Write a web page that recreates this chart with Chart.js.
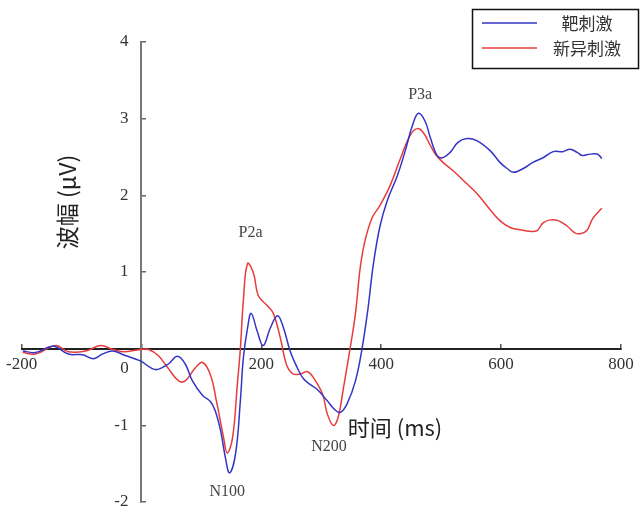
<!DOCTYPE html>
<html>
<head>
<meta charset="utf-8">
<script src="https://cdn.jsdelivr.net/npm/chart.js@4"></script>
<style>
  body { margin: 0; background: #fff; }
  #wrap { width: 641px; height: 509px; position: relative; }
</style>
</head>
<body>
<div id="wrap"><canvas id="erp"></canvas></div>
<script>
// --------------------- DATOS ---------------------
const seriesNames = ["靶刺激", "新异刺激"];

// tiempo (ms) y amplitud (uV) - estimado de la imagen
const tBlue = [-198, -177, -147, -122, -98, -80, -65, -48, -27, -2, 18, 28, 45, 60, 73, 85, 102, 115, 123, 132, 140, 147, 157, 165, 170, 177, 183, 193, 203, 215, 227, 237, 248, 260, 270, 282, 293, 310, 323, 332, 343, 357, 368, 378, 387, 398, 410, 427, 440, 452, 462, 473, 482, 493, 502, 515, 528, 543, 560, 582, 598, 610, 620, 637, 653, 670, 687, 703, 715, 727, 735, 743, 760, 768];
const vBlue = [-0.03, -0.05, 0.03, -0.07, -0.08, -0.13, -0.07, -0.03, -0.09, -0.16, -0.26, -0.27, -0.20, -0.10, -0.20, -0.42, -0.61, -0.69, -0.81, -1.07, -1.42, -1.62, -1.37, -0.68, -0.12, 0.27, 0.46, 0.23, 0.04, 0.27, 0.43, 0.27, -0.03, -0.25, -0.39, -0.47, -0.53, -0.68, -0.80, -0.83, -0.72, -0.42, 0.00, 0.53, 1.11, 1.60, 1.93, 2.26, 2.58, 2.91, 3.07, 2.97, 2.75, 2.52, 2.49, 2.56, 2.69, 2.74, 2.71, 2.58, 2.43, 2.35, 2.30, 2.35, 2.43, 2.49, 2.57, 2.57, 2.60, 2.56, 2.52, 2.53, 2.54, 2.48];

const tRed = [-198, -177, -143, -122, -93, -68, -48, -27, -2, 12, 28, 45, 62, 73, 90, 102, 115, 125, 137, 143, 152, 160, 165, 170, 177, 187, 195, 210, 220, 232, 242, 253, 265, 277, 287, 302, 310, 320, 328, 337, 348, 357, 365, 373, 385, 398, 415, 432, 448, 460, 470, 482, 490, 503, 520, 543, 560, 582, 598, 615, 632, 648, 660, 670, 682, 695, 710, 723, 732, 743, 753, 768];
const vRed = [-0.05, -0.07, 0.04, -0.04, -0.03, 0.04, -0.01, -0.04, -0.01, -0.01, -0.09, -0.26, -0.42, -0.42, -0.25, -0.18, -0.34, -0.68, -1.16, -1.36, -1.16, -0.46, 0.00, 0.63, 1.11, 0.98, 0.69, 0.56, 0.46, 0.13, -0.21, -0.33, -0.33, -0.30, -0.38, -0.59, -0.85, -1.00, -0.90, -0.51, 0.00, 0.46, 1.06, 1.41, 1.71, 1.87, 2.13, 2.48, 2.78, 2.87, 2.82, 2.65, 2.54, 2.43, 2.32, 2.15, 2.02, 1.81, 1.67, 1.58, 1.55, 1.53, 1.54, 1.64, 1.68, 1.67, 1.60, 1.51, 1.50, 1.54, 1.70, 1.83];

// componentes marcados en la grafica
const compLabels = ["P2a", "P3a", "N100", "N200"];
const compT = [182, 465, 143, 313];
const compV = [1.51, 3.31, -1.87, -1.28];

const xTitle = "时间 (ms)";
const yTitle = "波幅 (μV)";

function toPoints(ts, vs) {
  return ts.map((t, i) => ({ x: t, y: vs[i] }));
}

// --------------------- PLUGIN DE TEXTOS EXTRA ---------------------
const extras = {
  id: "extras",
  afterDraw(chart) {
    const c = chart.ctx;
    const xs = chart.scales.x;
    const ys = chart.scales.y;
    const x0 = xs.getPixelForValue(0);
    const y0 = ys.getPixelForValue(0);
    c.save();

    // etiquetas del eje y (a la izquierda del eje)
    c.font = "17px 'Liberation Serif'";
    c.fillStyle = "#333";
    c.textAlign = "right";
    c.textBaseline = "middle";
    ys.ticks.forEach(t => {
      if (t.value !== 0) c.fillText(String(t.value), x0 - 13, ys.getPixelForValue(t.value));
    });

    // etiqueta "0" desplazada
    c.textAlign = "center";
    c.fillText("0", x0 - 17, y0 + 20);

    // componentes
    c.font = "16px 'Liberation Serif'";
    c.fillStyle = "#444";
    compLabels.forEach((lab, i) => {
      c.fillText(lab, xs.getPixelForValue(compT[i]), ys.getPixelForValue(compV[i]));
    });

    // titulos de ejes
    c.font = "22px 'Noto Sans CJK SC'";
    c.fillStyle = "#222";
    c.fillText(xTitle, 395, 428);
    c.font = "23px 'Noto Sans CJK SC'";
    c.translate(67, 202);
    c.rotate(-Math.PI / 2);
    c.fillText(yTitle, 0, 0);
    c.restore();

    // leyenda
    c.save();
    c.strokeStyle = "#111";
    c.lineWidth = 1.5;
    c.strokeRect(472.5, 9.5, 166, 59);
    c.font = "17px 'Noto Sans CJK SC'";
    c.fillStyle = "#333";
    c.textAlign = "center";
    c.textBaseline = "middle";
    chart.data.datasets.forEach((ds, i) => {
      const y = 23 + i * 25;
      c.strokeStyle = ds.borderColor;
      c.lineWidth = 1.5;
      c.beginPath();
      c.moveTo(482, y);
      c.lineTo(537, y);
      c.stroke();
      c.fillText(ds.label, 587, y + 1);
    });
    c.restore();
  }
};

// --------------------- GRAFICA ---------------------
new Chart(document.getElementById("erp"), {
  type: "line",
  data: {
    datasets: [
      {
        label: seriesNames[0],
        data: toPoints(tBlue, vBlue),
        borderColor: "#3434c6",
        borderWidth: 1.5,
        pointRadius: 0,
        tension: 0.4,
        fill: false
      },
      {
        label: seriesNames[1],
        data: toPoints(tRed, vRed),
        borderColor: "#e83c3c",
        borderWidth: 1.5,
        pointRadius: 0,
        tension: 0.4,
        fill: false
      }
    ]
  },
  options: {
    responsive: true,
    maintainAspectRatio: false,
    animation: false,
    layout: { padding: { left: 21, right: 20, top: 42, bottom: 7 } },
    plugins: {
      legend: { display: false },
      tooltip: { enabled: false }
    },
    scales: {
      x: {
        type: "linear",
        position: { y: 0 },
        min: -200,
        max: 800,
        ticks: {
          stepSize: 200,
          padding: 6,
          color: "#333",
          font: { family: "'Liberation Serif'", size: 17, lineHeight: 1.9 },
          callback: v => (v === 0 ? "" : v)
        },
        grid: { drawOnChartArea: false, tickLength: -6, color: "#555", lineWidth: 1.5 },
        border: { color: "#222", width: 2 }
      },
      y: {
        position: { x: 0 },
        min: -2,
        max: 4,
        ticks: { stepSize: 1, display: false },
        grid: { drawOnChartArea: false, tickLength: -6, color: "#666", lineWidth: 1.5 },
        border: { color: "#777", width: 2 }
      }
    }
  },
  plugins: [extras]
});
</script>
</body>
</html>
